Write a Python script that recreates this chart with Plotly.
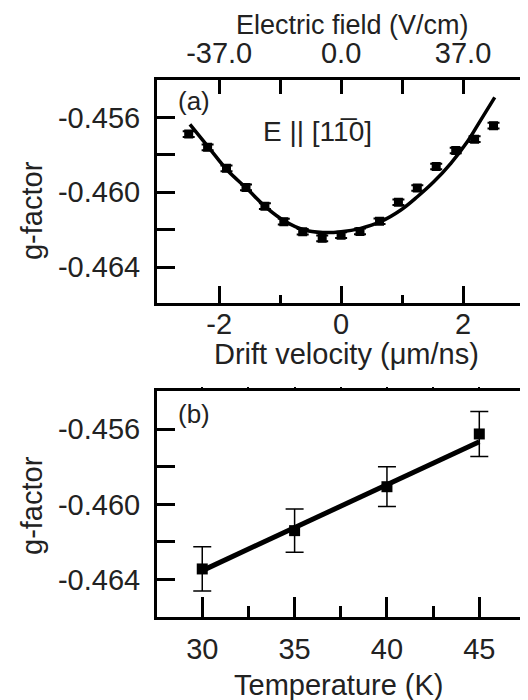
import plotly.graph_objects as go

# ---------------- Panel (a) data ----------------
drift_v = [-2.50, -2.19, -1.88, -1.56, -1.25, -0.94, -0.63, -0.31, 0.00,
           0.31, 0.63, 0.94, 1.25, 1.56, 1.88, 2.19, 2.50]
g_a = [-0.45689, -0.45760, -0.45872, -0.45974, -0.46074, -0.46157, -0.46211,
       -0.46246, -0.46229, -0.46209, -0.46155, -0.46053, -0.45977, -0.45862,
       -0.45777, -0.45716, -0.45644]
g_a_err = [0.00015, 0.00015, 0.00015, 0.00015, 0.00015, 0.00015, 0.00015,
           0.00015, 0.00015, 0.00015, 0.00015, 0.00015, 0.00015, 0.00015,
           0.00015, 0.00015, 0.00015]
fit_v = [-2.48, -2.18, -1.87, -1.55, -1.22, -0.92, -0.62, -0.30, 0.00,
         0.32, 0.65, 0.98, 1.25, 1.52, 1.80, 2.07, 2.29, 2.52]
fit_g = [-0.45637, -0.45757, -0.45881, -0.45979, -0.46083, -0.46155, -0.46200,
         -0.46215, -0.46211, -0.46193, -0.46157, -0.46095, -0.46024, -0.45944,
         -0.45845, -0.45730, -0.45614, -0.45493]
drift_ticks = [-2, 0, 2]
drift_ticktext = ["-2", "0", "2"]
drift_minor = [-1, 1]
field_tickvals = [-2, -1, 0, 1, 2]
field_ticktext = ["-37.0", "", "0.0", "", "37.0"]

# ---------------- Panel (b) data ----------------
temp = [30, 35, 40, 45]
g_b = [-0.46344, -0.46140, -0.45906, -0.45625]
g_b_err = [0.00118, 0.00115, 0.00106, 0.00120]
fit_t = [30, 45]
fit_gb = [-0.46353, -0.45666]
temp_ticks = [30, 35, 40, 45]
temp_minor = [32.5, 37.5, 42.5]
temp_top_ticks = [30, 32.5, 35, 37.5, 40, 42.5, 45]

g_tickvals = [-0.464, -0.462, -0.460, -0.458, -0.456]
g_ticktext = ["-0.464", "", "-0.460", "", "-0.456"]

FONT = "Liberation Sans, Arial, sans-serif"
TXT = "#222222"
FS = 29

fig = go.Figure()

# panel (a)
fig.add_trace(go.Scatter(x=fit_v, y=fit_g, mode="lines",
                         line=dict(color="black", width=3.5, shape="spline", smoothing=1.0),
                         xaxis="x", yaxis="y", hoverinfo="skip"))
fig.add_trace(go.Scatter(x=drift_v, y=g_a, mode="markers",
                         marker=dict(symbol="square", size=9, color="black"),
                         error_y=dict(type="data", array=g_a_err, color="black",
                                      thickness=2, width=6),
                         xaxis="x", yaxis="y"))
# panel (b)
fig.add_trace(go.Scatter(x=fit_t, y=fit_gb, mode="lines",
                         line=dict(color="black", width=5),
                         xaxis="x2", yaxis="y2", hoverinfo="skip"))
fig.add_trace(go.Scatter(x=temp, y=g_b, mode="markers",
                         marker=dict(symbol="square", size=11, color="black"),
                         error_y=dict(type="data", array=g_b_err, color="black",
                                      thickness=1.5, width=9),
                         xaxis="x2", yaxis="y2"))
# empty traces to instantiate the overlay axes
fig.add_trace(go.Scatter(x=[], y=[], xaxis="x3", yaxis="y"))
fig.add_trace(go.Scatter(x=[], y=[], xaxis="x", yaxis="y3"))
fig.add_trace(go.Scatter(x=[], y=[], xaxis="x4", yaxis="y2"))
fig.add_trace(go.Scatter(x=[], y=[], xaxis="x2", yaxis="y4"))

dom_a = [0.5853, 1.0]
dom_b = [0.0, 0.4209]
rng_xa = [-3.02, 3.0]
rng_ya = [-0.4659, -0.4540]
rng_xb = [27.55, 47.42]
rng_yb = [-0.4660, -0.45396]

tickfont = dict(family=FONT, size=FS, color=TXT)
common = dict(showgrid=False, zeroline=False, automargin=False)

# page body has an 8px margin, so the figure is 8px smaller than the window
fig.update_layout(
    width=520, height=692, autosize=False,
    margin=dict(l=149, r=4, t=72, b=83),
    plot_bgcolor="white", paper_bgcolor="white",
    showlegend=False,
    font=dict(family=FONT, size=FS, color=TXT),
    xaxis=dict(domain=[0, 1], anchor="y", range=rng_xa, tickmode="array",
               tickvals=drift_ticks, ticktext=drift_ticktext, ticks="inside",
               ticklen=17, tickwidth=3, tickcolor="black", showline=True,
               linewidth=3, linecolor="black", mirror=True, tickfont=tickfont,
               ticklabelstandoff=-6,
               minor=dict(tickmode="array", tickvals=drift_minor, ticks="inside",
                          ticklen=8, tickwidth=3, tickcolor="black", showgrid=False),
               **common),
    yaxis=dict(domain=dom_a, anchor="x", range=rng_ya, tickmode="array",
               tickvals=g_tickvals, ticktext=g_ticktext, ticks="inside", ticklen=18,
               tickwidth=3, tickcolor="black", showline=True, linewidth=3,
               linecolor="black", mirror=True, tickfont=tickfont,
               ticklabelstandoff=8, **common),
    xaxis3=dict(overlaying="x", side="top", anchor="y", range=rng_xa, tickmode="array",
                tickvals=field_tickvals, ticktext=field_ticktext, ticks="inside",
                ticklen=14, tickwidth=3, tickcolor="black", showline=False,
                tickfont=tickfont, ticklabelstandoff=10, **common),
    yaxis3=dict(overlaying="y", side="right", anchor="x", range=rng_ya, tickmode="array",
                tickvals=g_tickvals, ticks="outside", ticklen=4, tickwidth=2,
                tickcolor="black", showticklabels=False, showline=False, **common),
    xaxis2=dict(domain=[0, 1], anchor="y2", range=rng_xb, tickmode="array",
                tickvals=temp_ticks, ticks="inside", ticklen=20, tickwidth=3,
                tickcolor="black", showline=True, linewidth=3, linecolor="black",
                mirror=True, tickfont=tickfont, ticklabelstandoff=4,
                minor=dict(tickmode="array", tickvals=temp_minor, ticks="inside",
                           ticklen=11, tickwidth=3, tickcolor="black", showgrid=False),
                **common),
    yaxis2=dict(domain=dom_b, anchor="x2", range=rng_yb, tickmode="array",
                tickvals=g_tickvals, ticktext=g_ticktext, ticks="inside", ticklen=18,
                tickwidth=3, tickcolor="black", showline=True, linewidth=3,
                linecolor="black", mirror=True, tickfont=tickfont,
                ticklabelstandoff=8, **common),
    xaxis4=dict(overlaying="x2", side="top", anchor="y2", range=rng_xb, tickmode="array",
                tickvals=temp_top_ticks, ticks="outside", ticklen=3,
                tickwidth=1.5, tickcolor="black", showticklabels=False, showline=False,
                **common),
    yaxis4=dict(overlaying="y2", side="right", anchor="x2", range=rng_yb, tickmode="array",
                tickvals=g_tickvals, ticks="outside", ticklen=4, tickwidth=2,
                tickcolor="black", showticklabels=False, showline=False, **common),
)

def ann(text, x, y, angle=0, size=FS):
    fig.add_annotation(text=text, x=x, y=y, xref="paper", yref="paper",
                       xanchor="center", yanchor="middle", showarrow=False,
                       textangle=angle, font=dict(family=FONT, size=size, color=TXT))

ann("Electric field (V/cm)", 0.5327, 1.1030, size=27)
ann("Drift velocity (μm/ns)", 0.5169, 0.4900)
ann("Temperature (K)", 0.4959, -0.1266)
ann("g-factor", -0.3406, 0.7579, angle=-90)
ann("g-factor", -0.3406, 0.2086, angle=-90)
ann("(a)", 0.1008, 0.9609, size=26)
ann("(b)", 0.1008, 0.3780, size=26)
ann("E || [11\u03050]", 0.4373, 0.9032, size=28)

fig.write_html("out.html")
